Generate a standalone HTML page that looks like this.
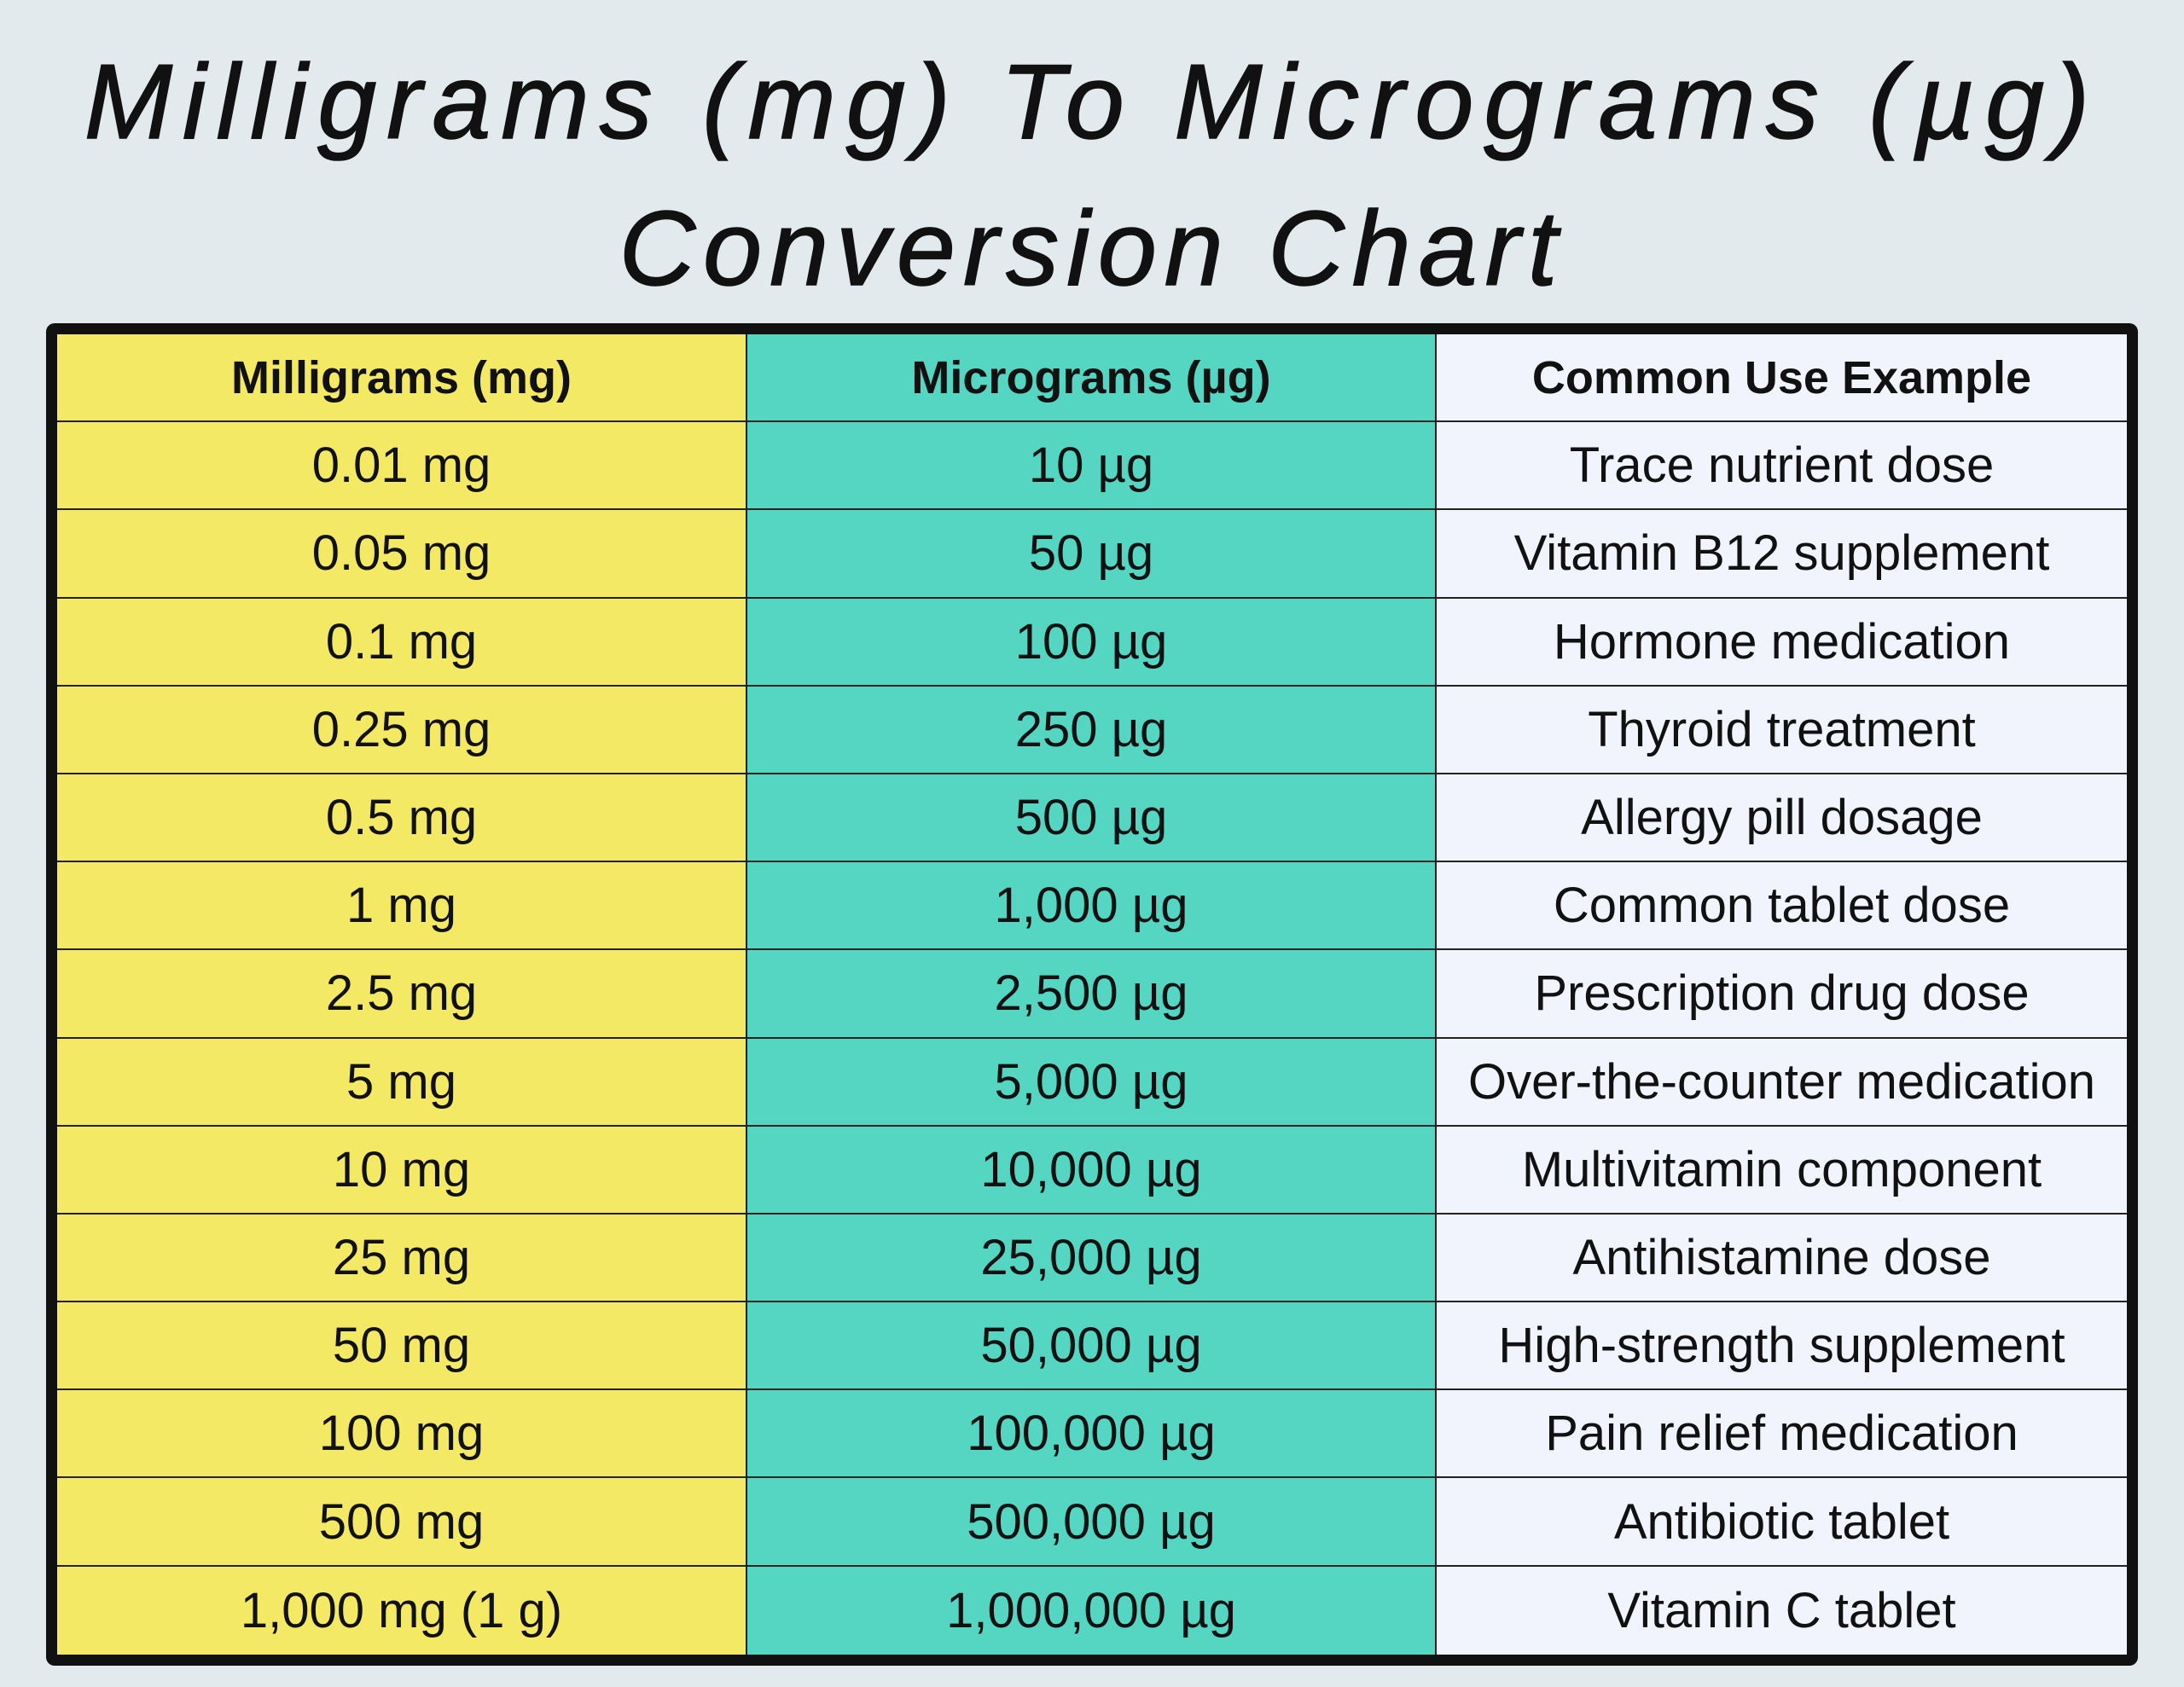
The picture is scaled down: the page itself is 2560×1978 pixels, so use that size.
<!DOCTYPE html>
<html><head><meta charset="utf-8">
<style>
html,body{margin:0;padding:0;}
body{width:2560px;height:1978px;background:#e3eaed;position:relative;overflow:hidden;font-family:"Liberation Sans","DejaVu Sans",sans-serif;}
.title{position:absolute;left:0;width:2560px;text-align:center;font-style:italic;font-size:124px;letter-spacing:9px;color:#111;line-height:1;-webkit-text-stroke:1.5px #111;}
.wrap{position:absolute;left:54px;top:379px;width:2426px;height:1548px;border:13px solid #111;border-radius:10px;background:#111;overflow:hidden;}
.grid{display:grid;grid-template-columns:809px 808px 809px;grid-template-rows:repeat(15,103.2px);width:2426px;height:1548px;}
.cell{box-sizing:border-box;border-right:2px solid #222;border-bottom:2px solid #222;display:flex;align-items:center;justify-content:center;font-size:58px;color:#111;}
.h{font-weight:bold;font-size:54px;}
.c1{background:#f4e964;}
.c2{background:#55d6c2;}
.c3{background:#f1f3fd;border-right:none;}
.last{border-bottom:none;}
</style></head><body>
<div class="title" style="top:58px;letter-spacing:12px;">Milligrams (mg) To Micrograms (µg)</div>
<div class="title" style="top:230px;">Conversion Chart</div>
<div class="wrap">
<div class="grid" id="grid">
<div class="cell h c1">Milligrams (mg)</div>
<div class="cell h c2">Micrograms (µg)</div>
<div class="cell h c3">Common Use Example</div>
</div>
</div>
<script>
var mg=["0.01 mg","0.05 mg","0.1 mg","0.25 mg","0.5 mg","1 mg","2.5 mg","5 mg","10 mg","25 mg","50 mg","100 mg","500 mg","1,000 mg (1 g)"];
var ug=["10 µg","50 µg","100 µg","250 µg","500 µg","1,000 µg","2,500 µg","5,000 µg","10,000 µg","25,000 µg","50,000 µg","100,000 µg","500,000 µg","1,000,000 µg"];
var uses=["Trace nutrient dose","Vitamin B12 supplement","Hormone medication","Thyroid treatment","Allergy pill dosage","Common tablet dose","Prescription drug dose","Over-the-counter medication","Multivitamin component","Antihistamine dose","High-strength supplement","Pain relief medication","Antibiotic tablet","Vitamin C tablet"];
var g=document.getElementById('grid');
for(var i=0;i<mg.length;i++){
  var last=(i===mg.length-1)?' last':'';
  var a=document.createElement('div');a.className='cell c1'+last;a.textContent=mg[i];
  
  
  var b=document.createElement('div');b.className='cell c2'+last;b.textContent=ug[i];
  
  
  var c=document.createElement('div');c.className='cell c3'+last;c.textContent=uses[i];
  
  
  g.appendChild(a);g.appendChild(b);g.appendChild(c);
}
</script>
</body></html>
